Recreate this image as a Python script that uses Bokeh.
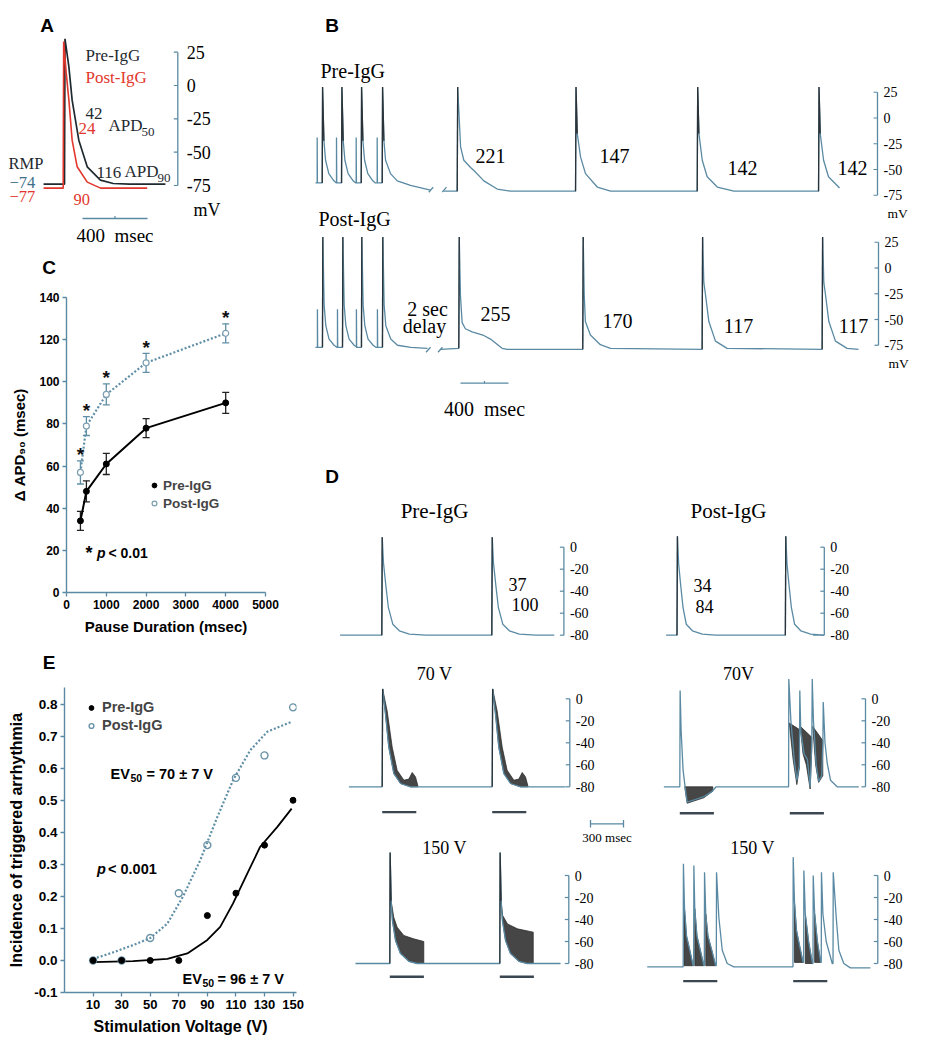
from bokeh.plotting import figure
from bokeh.layouts import row, column
from bokeh.models import (Range1d, Label, Legend, LegendItem, Whisker, TeeHead,
                          ColumnDataSource, FixedTicker, NumeralTickFormatter)
from bokeh.embed import file_html
from bokeh.resources import INLINE
from bokeh.core.properties import value

SERIF = "Liberation Serif"
SANS = "Liberation Sans"
TRACE = "#5a8aa3"
AXC = "#5a8aa3"
DARK = "#1f2a30"
SPIKE = "#2b3338"
RED = "#e2372c"
BAND = "#262626"
POSTC = "#5f8ea6"

# ===================== DATA =====================
# Panel A: single action potentials (ms from upstroke, mV)
a_pre_t = [-129, 0, 3, 27, 47, 88, 140, 221, 300, 400, 621]
a_pre_v = [-74, -74, 35, 14, -11, -41, -61, -71, -73.5, -74, -74]
a_post_t = [-129, -8, -5, 10, 27, 47, 78, 140, 222, 300, 509]
a_post_v = [-77, -77, 33, 10, -11, -41, -61, -72.5, -77, -77, -77]
a_ticks = [25, 0, -25, -50, -75]

# Panel B: paced trains (ms, mV)
b_ticks = [25, 0, -25, -50, -75]
b_pre_fast_on = [56, 217, 381, 556]
b_post_fast_on = [58, 225, 383, 558]
b_fast_pre_t = [0, 3, 14, 28, 55, 97, 118]
b_fast_pre_v = [-63, 30, -22, -41, -54, -61, -63]
b_fast_post_t = [0, 3, 14, 28, 55, 97, 120]
b_fast_post_v = [-77, 30, -36, -56, -69, -75, -77]
b_tail_pre_t = [0, 3, 14, 28, 69, 125, 236, 402]
b_tail_pre_v = [-63, 30, -22, -41, -54, -61, -65.5, -70]
b_tail_post_t = [0, 3, 14, 28, 69, 125, 236, 375]
b_tail_post_v = [-77, 30, -36, -56, -69, -75, -77, -78]
b_pre_beats_on = [1181, 2167, 3181, 4192]
b_post_beats_on = [1194, 2227, 3222, 4222]
b_pause_pre_t = [0, 4, 28, 55, 111, 139, 222, 333, 444]
b_pause_pre_v = [-71, 30, -28, -41, -48, -51, -61, -69, -71]
b_147_t = [0, 4, 14, 42, 83, 181, 292]
b_147_v = [-71, 30, -15, -38, -54, -67, -71]
b_142_t = [0, 4, 14, 42, 83, 167, 306]
b_142_v = [-71, 30, -15, -41, -57, -67, -71]
b_pause_post_t = [0, 4, 14, 28, 55, 111, 208, 264, 361, 403]
b_pause_post_v = [-78, 30, -27, -53, -59, -62, -65.5, -69, -78, -79]
b_170_t = [0, 4, 12, 22, 64, 147, 231]
b_170_v = [-79, 30, -25, -52, -65, -74.5, -78]
b_117_t = [0, 4, 14, 28, 56, 111, 208]
b_117_v = [-79, 30, -14, -26, -52, -71, -78]
b_pre_apd = ["221", "147", "142", "142"]
b_post_apd = ["255", "170", "117", "117"]

# Panel C: pause-dependent APD90 prolongation
pause_ms = [350, 500, 1000, 2000, 4000]
c_pre = [34, 48, 61, 78, 90]
c_pre_err = [4.5, 5, 5, 4.5, 5]
c_post = [57, 79, 94, 109, 123]
c_post_err = [5.5, 4.5, 5, 4.5, 4.5]
c_xticks = [0, 1000, 2000, 3000, 4000, 5000]
c_yticks = [0, 20, 40, 60, 80, 100, 120, 140]

# Panel D: traces (ms from first upstroke, mV)
d_ticks = [0, -20, -40, -60, -80]
d_norm_pre_t = [0, 4, 15, 37, 60, 100, 160, 250, 400]
d_norm_pre_v = [-80, 9, -14, -35, -55, -70, -76, -79, -80]
d_norm_post_t = [0, 4, 15, 34, 55, 84, 140, 230, 350]
d_norm_post_v = [-80, 10, -15, -35, -55, -70, -76, -79, -80]
d_ead_t = [0, 4, 30, 60, 106, 167, 258, 330]
d_ead_v = [-80, 9, -14, -44, -68, -77, -80, -80]
d_ead_band_t = [4, 45, 91, 136, 197, 242, 273, 303, 324, 324, 258, 167, 106, 60, 30]
d_ead_band_v = [9, -11, -44, -65, -74, -73, -67, -71, -79, -80, -80, -77, -68, -44, -14]
d_p70_t = [-145, 0, 3, 12, 30, 52, 67, 127, 218, 295, 330, 989, 991, 1010, 1040, 1064, 1087,
           1091, 1100, 1130, 1160, 1185, 1200, 1204, 1215, 1240, 1262, 1290, 1301, 1304, 1320,
           1341, 1370, 1431, 1627]
d_p70_v = [-80, -80, 7.5, -29, -65, -83, -94, -92, -89, -84, -80, -80, 18, -20, -55, -74, -60,
           7.5, -30, -50, -55, -80, -40, 18, -20, -60, -75, -70, -40, -3, -40,
           -59, -74, -80, -80]
d_p70_bands_t = [[45, 300, 300, 218, 127, 67, 52], [995, 1088, 1088, 1064, 1030],
                 [1095, 1200, 1200, 1185, 1150, 1120], [1208, 1300, 1300, 1262, 1235]]
d_p70_bands_v = [[-80, -80, -84, -90, -93, -95, -85], [-22, -28, -62, -78, -55],
                 [-25, -35, -45, -82, -60, -50], [-25, -38, -70, -76, -60]]
d_150_t = [0, 3, 12, 24, 52, 97, 173, 249, 320]
d_150_v = [-80, 21, -23, -41, -59, -71, -78, -80, -80]
d_150_bandA_t = [12, 36, 67, 127, 218, 309, 309, 249, 173, 97, 52, 24]
d_150_bandA_v = [-23, -38, -47, -54.5, -57.6, -60, -80, -80, -78, -71, -59, -41]
d_150_bandB_t = [12, 24, 70, 161, 304, 304, 249, 173, 97, 52, 24]
d_150_bandB_v = [-23, -36, -44, -48.5, -51.5, -80, -80, -78, -71, -59, -41]
d_p150_t = [-327, 0, 2, 12, 30, 60, 90, 95, 97, 105, 125, 160, 188, 192, 194, 205, 225, 260,
            295, 301, 303, 324, 355, 400, 460, 998, 1000, 1012, 1030, 1060, 1090, 1095, 1097,
            1110, 1140, 1175, 1180, 1182, 1195, 1220, 1250, 1255, 1257, 1270, 1300, 1355,
            1362, 1364, 1391, 1415, 1460, 1520, 1702]
d_p150_v = [-83, -83, 10.6, -30, -55, -68, -82, -82, 9, -30, -55, -70, -82, -82, 3, -35, -55, -68,
            -82, -82, 3, -38, -68, -80, -83, -83, 16.7, -25, -50, -65, -79, -79, 4.5,
            -35, -60, -80, -80, 0, -35, -60, -79, -79, 3, -35, -60, -80,
            -80, 3, -38, -68, -80, -84, -84]
d_p150_bands_t = [[8, 30, 60, 90, 8], [105, 125, 160, 188, 105], [205, 225, 260, 295, 205],
                  [1012, 1030, 1060, 1090, 1012], [1110, 1140, 1175, 1110], [1195, 1220, 1250, 1195]]
d_p150_bands_v = [[-25, -55, -68, -82, -82], [-30, -55, -70, -82, -82], [-35, -55, -68, -82, -82],
                  [-25, -50, -65, -79, -79], [-35, -60, -80, -80], [-35, -60, -79, -79]]
d_stim_on = [0, 1000]
d_stim_dur = 310

# Panel E: incidence of triggered arrhythmia
volts = [10, 30, 50, 70, 90, 110, 130, 150]
e_pre = [0, 0, 0, 0, 0.14, 0.21, 0.36, 0.50]
e_post = [0, 0, 0.07, 0.21, 0.36, 0.57, 0.64, 0.79]
e_post_fit_x = [10, 22, 38, 50, 62, 73, 85, 97, 108, 120, 132, 149]
e_post_fit_y = [0.005, 0.022, 0.048, 0.07, 0.115, 0.2, 0.313, 0.448, 0.563, 0.656, 0.714, 0.745]
e_pre_fit_x = [10, 38, 62, 76, 90, 99, 108, 118, 127, 139, 149]
e_pre_fit_y = [-0.005, -0.002, 0.005, 0.022, 0.064, 0.105, 0.178, 0.272, 0.355, 0.417, 0.474]
e_xticks = [10, 30, 50, 70, 90, 110, 130, 150]
e_yticks = [-0.1, 0.0, 0.1, 0.2, 0.3, 0.4, 0.5, 0.6, 0.7, 0.8]

LEFT_W, RIGHT_W = 306, 629
A_H, C_H, LE_H, E_H = 285, 355, 40, 370
B_H, D_H = 425, 625


# ===================== HELPERS =====================
def no_align(p):
    try:
        p.frame_align = False
    except Exception:
        pass


def trace_fig(left, top, w, h, ix0, iy0, sx, sy):
    xr = Range1d((left - ix0) / sx, (left + w - ix0) / sx)
    yr = Range1d((iy0 - (top + h)) / sy, (iy0 - top) / sy)
    p = figure(width=w, height=h, x_range=xr, y_range=yr, x_axis_type=None, y_axis_type=None,
               toolbar_location=None, output_backend="svg", min_border=0,
               outline_line_color=None, background_fill_color="white", border_fill_color="white")
    no_align(p)
    X = lambda ix: (ix - ix0) / sx
    Y = lambda iy: (iy0 - iy) / sy
    return p, X, Y


def lab(p, x, y, text, size, font=SERIF, color="black", align="left", style="normal",
        baseline="middle"):
    p.add_layout(Label(x=x, y=y, text=text, text_font=font, text_font_size=f"{size}px",
                       text_color=color, text_align=align, text_font_style=style,
                       text_baseline=baseline))


def mv_axis(p, X, xa_img, ticks, ypos, size, tick_px=4, gap_px=6):
    xa, xt, xl = X(xa_img), X(xa_img - tick_px), X(xa_img + gap_px)
    ys = [ypos(v) for v in ticks]
    p.line(x=[xa, xa], y=[min(ys), max(ys)], line_color=AXC, line_width=1.3)
    p.segment(x0=[xt] * len(ys), y0=ys, x1=[xa] * len(ys), y1=ys, line_color=AXC, line_width=1.2)
    p.text(x=[xl] * len(ys), y=ys, text=[str(t) for t in ticks], text_font=value(SERIF),
           text_font_size=f"{size}px", text_align="left", text_baseline="middle",
           text_color="black")


def shifted(on, tt, vv, off=0.0, tmax=None):
    xs, ys = [], []
    for t, v in zip(tt, vv):
        if tmax is None or t <= tmax:
            xs.append(on + t)
            ys.append(v + off)
    return xs, ys


def style_axes(p, xsize, ysize, lsize):
    for ax, s in ((p.xaxis[0], xsize), (p.yaxis[0], ysize)):
        ax.axis_line_color = AXC
        ax.axis_line_width = 1.4
        ax.major_tick_line_color = AXC
        ax.major_tick_line_width = 1.3
        ax.major_tick_in = 0
        ax.major_tick_out = 4
        ax.minor_tick_line_color = None
        ax.major_label_text_font = SANS
        ax.major_label_text_font_style = "bold"
        ax.major_label_text_font_size = s
        ax.major_label_text_color = "black"
        ax.major_label_standoff = 3
        ax.axis_label_text_font = SANS
        ax.axis_label_text_font_style = "bold"
        ax.axis_label_text_font_size = lsize
        ax.axis_label_text_color = "black"
    p.grid.visible = False


# ===================== PANEL A (+ letter C) =====================
pA, AX, AY = trace_fig(0, 0, LEFT_W, A_H, 64, 85, 0.1625, 1.333)
pA.line(a_pre_t, a_pre_v, line_color=DARK, line_width=1.7)
pA.line(a_post_t, a_post_v, line_color=RED, line_width=1.6)
mv_axis(pA, AX, 177.3, a_ticks, lambda v: v, 18, gap_px=9)
lab(pA, AX(193), AY(209), "mV", 18)
lab(pA, AX(46.5), AY(25), "A", 19, font=SANS, style="bold", align="center")
lab(pA, AX(85), AY(55), "Pre-IgG", 17, color=DARK)
lab(pA, AX(85), AY(77), "Post-IgG", 17, color=RED)
lab(pA, AX(85), AY(113), "42", 17, color=DARK)
lab(pA, AX(78), AY(128), "24", 17, color=RED)
lab(pA, AX(108), AY(125), "APD", 17, color=DARK)
lab(pA, AX(141), AY(131), "50", 13, color=DARK)
lab(pA, AX(96), AY(172), "116", 17, color=DARK)
lab(pA, AX(124), AY(171), "APD", 17, color=DARK)
lab(pA, AX(157), AY(177), "90", 13, color=DARK)
lab(pA, AX(8), AY(163), "RMP", 16.5, color=DARK)
lab(pA, AX(9), AY(182), "\u221274", 16.5, color="#3d6f88")
lab(pA, AX(9), AY(196), "\u221277", 16.5, color=RED)
lab(pA, AX(73), AY(199), "90", 16.5, color=RED)
a_bar0 = AX(82)
pA.line([a_bar0, a_bar0 + 400], [AY(218), AY(218)], line_color=AXC, line_width=1.3)
pA.line([a_bar0 + 200, a_bar0 + 200], [AY(218), AY(215.5)], line_color=AXC, line_width=1.2)
lab(pA, a_bar0 + 200, AY(235), "400\u2002msec", 19, align="center")
lab(pA, AX(48.5), AY(267), "C", 19, font=SANS, style="bold", align="center")

# ===================== PANEL C =====================
C_TOP = A_H
C_BL, C_BR, C_BT, C_BB = 66, 41, 297 - C_TOP, 48
pC = figure(width=LEFT_W, height=C_H, x_range=Range1d(0, 5000), y_range=Range1d(0, 140),
            toolbar_location=None, output_backend="svg", min_border_left=C_BL,
            min_border_right=C_BR, min_border_top=C_BT, min_border_bottom=C_BB,
            outline_line_color=None)
no_align(pC)
style_axes(pC, "12px", "12px", "15px")
pC.xaxis.ticker = FixedTicker(ticks=c_xticks)
pC.yaxis.ticker = FixedTicker(ticks=c_yticks)
pC.xaxis.axis_label = "Pause Duration (msec)"
pC.yaxis.axis_label = "\u0394 APD\u2089\u2080 (msec)"
pC.xaxis.axis_label_standoff = 6
pC.yaxis.axis_label_standoff = 8


def CX(ix):
    return (ix - C_BL) / (LEFT_W - C_BL - C_BR) * 5000


def CY(iy):
    return (C_TOP + C_H - C_BB - iy) / (C_H - C_BT - C_BB) * 140


srcC = ColumnDataSource(dict(x=pause_ms, pre=c_pre, post=c_post,
                             pre_lo=[v - e for v, e in zip(c_pre, c_pre_err)],
                             pre_hi=[v + e for v, e in zip(c_pre, c_pre_err)],
                             post_lo=[v - e for v, e in zip(c_post, c_post_err)],
                             post_hi=[v + e for v, e in zip(c_post, c_post_err)],
                             star=[v + e + 3 for v, e in zip(c_post, c_post_err)]))
pC.line("x", "post", source=srcC, line_color=POSTC, line_width=2.2, line_dash="2 2")
pC.line("x", "pre", source=srcC, line_color="black", line_width=2)
pC.add_layout(Whisker(source=srcC, base="x", upper="post_hi", lower="post_lo",
                      line_color=POSTC, line_width=1.3,
                      upper_head=TeeHead(size=7, line_color=POSTC, line_width=1.3),
                      lower_head=TeeHead(size=7, line_color=POSTC, line_width=1.3)))
pC.add_layout(Whisker(source=srcC, base="x", upper="pre_hi", lower="pre_lo",
                      line_color="#222222", line_width=1.3,
                      upper_head=TeeHead(size=7, line_color="#222222", line_width=1.3),
                      lower_head=TeeHead(size=7, line_color="#222222", line_width=1.3)))
c_post_sc = pC.scatter("x", "post", source=srcC, marker="circle", size=6, fill_color="white",
                       line_color="#7d9fb0", line_width=1.2)
c_pre_sc = pC.scatter("x", "pre", source=srcC, marker="circle", size=6, fill_color="black",
                      line_color="black")
pC.text("x", "star", text=value("*"), source=srcC, text_font=value(SANS),
        text_font_style="bold", text_font_size="19px", text_align="center",
        text_baseline="middle", text_color="#111111")
legC = Legend(items=[LegendItem(label="Pre-IgG", renderers=[c_pre_sc]),
                     LegendItem(label="Post-IgG", renderers=[c_post_sc])],
              location=(82, 81), background_fill_alpha=0, border_line_alpha=0,
              label_text_font=SANS, label_text_font_style="bold", label_text_font_size="13.5px",
              glyph_width=12, glyph_height=16, label_height=16, spacing=2, padding=0, margin=0,
              label_standoff=3)
pC.add_layout(legC)
lab(pC, CX(85), CY(552), "*", 18, font=SANS, style="bold")
lab(pC, CX(96.5), CY(552), "p", 14, font=SANS, style="bold italic")
lab(pC, CX(108), CY(552), "< 0.01", 14, font=SANS, style="bold")

# ===================== letter E strip =====================
LE_TOP = C_TOP + C_H
pLE, LX, LY = trace_fig(0, LE_TOP, LEFT_W, LE_H, 0, LE_TOP + LE_H, 1, 1)
lab(pLE, LX(48.5), LY(662), "E", 19, font=SANS, style="bold", align="center")

# ===================== PANEL E =====================
E_TOP = LE_TOP + LE_H
E_BL, E_BR, E_BT, E_BB = 64, 10, 687 - E_TOP, 58
E_X0, E_X1, E_Y0, E_Y1 = -10, 152.4, -0.1, 0.852
pE = figure(width=LEFT_W, height=E_H, x_range=Range1d(E_X0, E_X1), y_range=Range1d(E_Y0, E_Y1),
            toolbar_location=None, output_backend="svg", min_border_left=E_BL,
            min_border_right=E_BR, min_border_top=E_BT, min_border_bottom=E_BB,
            outline_line_color=None)
no_align(pE)
style_axes(pE, "13px", "13.5px", "16px")
pE.xaxis.ticker = FixedTicker(ticks=e_xticks)
pE.yaxis.ticker = FixedTicker(ticks=e_yticks)
pE.yaxis.formatter = NumeralTickFormatter(format="0.0")
pE.xaxis.axis_label = "Stimulation Voltage (V)"
pE.yaxis.axis_label = "Incidence of triggered arrhythmia"
pE.xaxis.axis_label_standoff = 6
pE.yaxis.axis_label_standoff = 6


def EX(ix):
    return E_X0 + (ix - E_BL) / (LEFT_W - E_BL - E_BR) * (E_X1 - E_X0)


def EY(iy):
    return E_Y0 + (E_TOP + E_H - E_BB - iy) / (E_H - E_BT - E_BB) * (E_Y1 - E_Y0)


pE.line(e_post_fit_x, e_post_fit_y, line_color=POSTC, line_width=2.2, line_dash="2 2")
pE.line(e_pre_fit_x, e_pre_fit_y, line_color="black", line_width=1.8)
e_post_sc = pE.scatter(volts, e_post, marker="circle", size=7, fill_color=None,
                       line_color="#6a93a8", line_width=1.4)
e_pre_sc = pE.scatter(volts, e_pre, marker="circle", size=6, fill_color="black",
                      line_color="black")
legE = Legend(items=[LegendItem(label="Pre-IgG", renderers=[e_pre_sc]),
                     LegendItem(label="Post-IgG", renderers=[e_post_sc])],
              location=(21, 259), background_fill_alpha=0, border_line_alpha=0,
              label_text_font=SANS, label_text_font_style="bold", label_text_font_size="14.5px",
              glyph_width=12, glyph_height=15, label_height=15, spacing=2, padding=0, margin=0,
              label_standoff=5)
pE.add_layout(legE)
lab(pE, EX(110), EY(773), "EV", 14.5, font=SANS, style="bold")
lab(pE, EX(130), EY(777), "50", 10.5, font=SANS, style="bold")
lab(pE, EX(146), EY(773), "= 70 \u00b1 7 V", 14.5, font=SANS, style="bold")
lab(pE, EX(182), EY(978), "EV", 14.5, font=SANS, style="bold")
lab(pE, EX(202), EY(982), "50", 10.5, font=SANS, style="bold")
lab(pE, EX(217), EY(978), "= 96 \u00b1 7 V", 14.5, font=SANS, style="bold")
lab(pE, EX(96.5), EY(868), "p", 14.5, font=SANS, style="bold italic")
lab(pE, EX(107.5), EY(868), "< 0.001", 14.5, font=SANS, style="bold")

# ===================== PANEL B =====================
B_SY = 1.03
pB, BX, BY = trace_fig(LEFT_W, 0, RIGHT_W, B_H, 315, 117.5, 0.12, B_SY)
B_OFF = BY(267.5)  # zero-mV level of lower row


def spike_tops(p, on_list, tmpls, off, tmax=14):
    for on, (tt, vv) in zip(on_list, tmpls):
        a, b = shifted(on, tt, vv, off, tmax)
        p.line(a, b, line_color=SPIKE, line_width=1.3)


def fast_train(on_list, fast_t, fast_v, tail_t, tail_v, base, art, off):
    xs, ys = [0], [base + off]
    for i, on in enumerate(on_list):
        xs += [on - 42, on - 42, on - 40]
        ys += [base + off, art + off, base + off]
        tt, vv = (tail_t, tail_v) if i == len(on_list) - 1 else (fast_t, fast_v)
        sx_, sy_ = shifted(on, tt, vv, off)
        xs += sx_
        ys += sy_
    return xs, ys


x1, y1 = fast_train(b_pre_fast_on, b_fast_pre_t, b_fast_pre_v, b_tail_pre_t, b_tail_pre_v, -63, -19, 0)
pB.line(x1, y1, line_color=TRACE, line_width=1.3)
spike_tops(pB, b_pre_fast_on, [(b_fast_pre_t, b_fast_pre_v)] * 4, 0)
pre_tmpls = [(b_pause_pre_t, b_pause_pre_v), (b_147_t, b_147_v), (b_142_t, b_142_v), (b_142_t, b_142_v)]
xs, ys = [BX(443)], [-71]
for on, (tt, vv) in zip(b_pre_beats_on, pre_tmpls):
    lim = 175 if on == b_pre_beats_on[-1] else None
    a, b = shifted(on, tt, vv, 0, lim)
    xs += a
    ys += b
xs.append(BX(839))
ys.append(-68)
pB.line(xs, ys, line_color=TRACE, line_width=1.3)
spike_tops(pB, b_pre_beats_on, pre_tmpls, 0)

x2, y2 = fast_train(b_post_fast_on, b_fast_post_t, b_fast_post_v, b_tail_post_t, b_tail_post_v,
                    -77, -40, B_OFF)
pB.line(x2, y2, line_color=TRACE, line_width=1.3)
spike_tops(pB, b_post_fast_on, [(b_fast_post_t, b_fast_post_v)] * 4, B_OFF, 8)
post_tmpls = [(b_pause_post_t, b_pause_post_v), (b_170_t, b_170_v), (b_117_t, b_117_v), (b_117_t, b_117_v)]
xs, ys = [BX(440)], [-79 + B_OFF]
for on, (tt, vv) in zip(b_post_beats_on, post_tmpls):
    a, b = shifted(on, tt, vv, B_OFF)
    xs += a
    ys += b
xs.append(BX(858))
ys.append(-79 + B_OFF)
pB.line(xs, ys, line_color=TRACE, line_width=1.3)
spike_tops(pB, b_post_beats_on, post_tmpls, B_OFF, 8)

for (xa, ya, xb, yb) in [(428.3, 191.7, 432.7, 186.7), (441.7, 191.7, 446, 186.7),
                         (425.5, 351.7, 430, 346.7), (437.5, 351.7, 442, 346.7)]:
    pB.line([BX(xa), BX(xb)], [BY(ya), BY(yb)], line_color=TRACE, line_width=1.3)

mv_axis(pB, BX, 877, b_ticks, lambda v: v, 14)
mv_axis(pB, BX, 878, b_ticks, lambda v: v + B_OFF, 14)
lab(pB, BX(887), BY(213), "mV", 13.5)
lab(pB, BX(888), BY(363), "mV", 13.5)
lab(pB, BX(331.5), BY(25), "B", 19, font=SANS, style="bold", align="center")
lab(pB, BX(320), BY(70), "Pre-IgG", 20)
lab(pB, BX(318), BY(218), "Post-IgG", 20)
for txt, (ix, iy) in zip(b_pre_apd, [(490, 155), (614, 155), (742, 167), (852, 167)]):
    lab(pB, BX(ix), BY(iy), txt, 20, align="center")
for txt, (ix, iy) in zip(b_post_apd, [(495, 313), (617, 320), (738, 325), (853, 325)]):
    lab(pB, BX(ix), BY(iy), txt, 20, align="center")
lab(pB, BX(427), BY(308), "2 sec", 20, align="center")
lab(pB, BX(424), BY(325), "delay", 20, align="center")
b_bar0 = BX(460)
pB.line([b_bar0, b_bar0 + 400], [BY(382.7), BY(382.7)], line_color=AXC, line_width=1.3)
pB.line([b_bar0 + 200, b_bar0 + 200], [BY(382.7), BY(380.5)], line_color=AXC, line_width=1.2)
lab(pB, b_bar0 + 200, BY(408), "400\u2002msec", 20, align="center")

# ===================== PANEL D =====================
D_TOP = B_H
pD, DX, DY = trace_fig(LEFT_W, D_TOP, RIGHT_W, D_H, 306, 415, 0.11, 1.1)
orig = {
    "pre1": (DX(381.3), DY(546.7)), "post1": (DX(676.5), DY(546.7)),
    "pre2": (DX(381.7), DY(698.3)), "post2": (DX(679.3), DY(698.3)),
    "pre3": (DX(389.3), DY(875.0)), "post3": (DX(682.7), DY(875.0)),
}


def dline(key, tt, vv, color=TRACE, width=1.3):
    t0, v0 = orig[key]
    pD.line([t0 + t for t in tt], [v0 + v for v in vv], line_color=color, line_width=width)


def dband(key, tt, vv):
    t0, v0 = orig[key]
    pD.patch([t0 + t for t in tt], [v0 + v for v in vv], fill_color=BAND, fill_alpha=0.85,
             line_color=BAND, line_width=0.8, line_alpha=0.9)


def dtrain(key, start, end, beats, tt, vv, base=-80):
    xs, ys = [start], [base]
    for on in beats:
        a, b = shifted(on, tt, vv)
        xs += a
        ys += b
    xs.append(end)
    ys.append(base)
    dline(key, xs, ys)
    for on in beats:
        a, b = shifted(on, tt, vv, 0, 12)
        dline(key, a, b, color=SPIKE, width=1.3)


dtrain("pre1", -379, 1568, [0, 1000], d_norm_pre_t, d_norm_pre_v)
dtrain("post1", -99, 1235, [0, 985], d_norm_post_t, d_norm_post_v)
for on in [0, 1000]:
    a, b = shifted(on, d_ead_band_t, d_ead_band_v)
    dband("pre2", a, b)
dtrain("pre2", -303, 1667, [0, 1000], d_ead_t, d_ead_v)
for bt, bv in zip(d_p70_bands_t, d_p70_bands_v):
    dband("post2", bt, bv)
dline("post2", d_p70_t, d_p70_v)
a, b = shifted(0, d_150_bandA_t, d_150_bandA_v)
dband("pre3", a, b)
a, b = shifted(1000, d_150_bandB_t, d_150_bandB_v)
dband("pre3", a, b)
dtrain("pre3", -312, 1552, [0, 1000], d_150_t, d_150_v)
for bt, bv in zip(d_p150_bands_t, d_p150_bands_v):
    dband("post3", bt, bv)
dline("post3", d_p150_t, d_p150_v)

for key, lvl in [("pre2", -103), ("post2", -104), ("pre3", -92), ("post3", -96)]:
    t0, v0 = orig[key]
    pD.segment(x0=[t0 + s for s in d_stim_on], y0=[v0 + lvl] * 2,
               x1=[t0 + s + d_stim_dur for s in d_stim_on], y1=[v0 + lvl] * 2,
               line_color="#3a4650", line_width=2.4)

for key, xa in [("pre1", 563.4), ("post1", 823.8), ("pre2", 569.3), ("post2", 865),
                ("pre3", 568.3), ("post3", 877.3)]:
    v0 = orig[key][1]
    mv_axis(pD, DX, xa, d_ticks, lambda v, v0=v0: v0 + v, 14)

lab(pD, DX(331.5), DY(476), "D", 19, font=SANS, style="bold", align="center")
lab(pD, DX(434), DY(510), "Pre-IgG", 21, align="center")
lab(pD, DX(728), DY(510), "Post-IgG", 21, align="center")
lab(pD, DX(508), DY(584), "37", 18)
lab(pD, DX(511), DY(604), "100", 18)
lab(pD, DX(693), DY(585), "34", 18)
lab(pD, DX(695), DY(606), "84", 18)
lab(pD, DX(434), DY(673), "70 V", 18, align="center")
lab(pD, DX(738), DY(673), "70V", 18, align="center")
lab(pD, DX(444), DY(847), "150 V", 18, align="center")
lab(pD, DX(752), DY(847), "150 V", 18, align="center")
d_bar0 = DX(590)
pD.line([d_bar0, d_bar0 + 300], [DY(823.3), DY(823.3)], line_color=AXC, line_width=1.3)
pD.segment(x0=[d_bar0, d_bar0 + 300], y0=[DY(819.5)] * 2, x1=[d_bar0, d_bar0 + 300],
           y1=[DY(827)] * 2, line_color=AXC, line_width=1.3)
lab(pD, d_bar0 + 150, DY(837), "300 msec", 13, align="center")

# ===================== LAYOUT =====================
layout = row(column(pA, pC, pLE, pE), column(pB, pD))
open("out.html", "w").write(file_html(layout, INLINE))
